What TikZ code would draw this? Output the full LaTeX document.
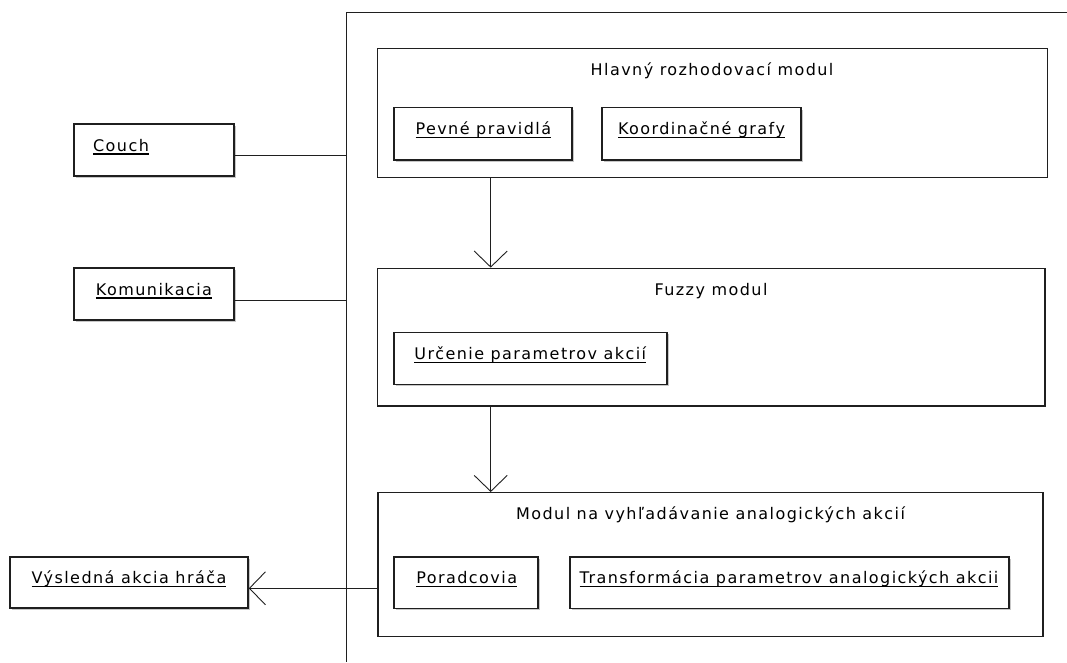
\documentclass[tikz,border=0pt]{standalone}
\usepackage{fontspec}
\setmainfont{DejaVu Sans}[LetterSpace=9]
\usetikzlibrary{arrows.meta,shadows,calc}
\newcommand\myul[1]{\setbox0=\hbox{#1}\rlap{\rule[-3.5pt]{\wd0}{1.2pt}}\box0}
\begin{document}
\begin{tikzpicture}[x=1pt,y=-1pt,
  frame/.style={draw=black!88, line width=1.4pt, inner sep=0pt, fill=white},
  inbox/.style={draw=black!88, line width=1.6pt, inner sep=0pt, fill=white,
    drop shadow={shadow xshift=2pt,shadow yshift=-2pt,opacity=0.22,fill=black}},
  txt/.style={anchor=base, inner sep=0pt, font=\fontsize{16}{19}\selectfont},
  conn/.style={draw=black!88, line width=0.9pt},
  arr/.style={conn, -{Straight Barb[length=16pt,width=33pt]}}
]
\useasboundingbox (0,0) rectangle (1067,662);
\fill[white] (0,0) rectangle (1067,662);

% system boundary
\coordinate (vtop) at (346.5,12);
\coordinate (vbot) at (346.5,662);
\coordinate (htop) at (1067,12);
\draw[conn] (htop) -- (vtop) -- (vbot);

% outer actors
\node[inbox, minimum width=160pt, minimum height=52pt] (couch) at (154,150) {};
\node[inbox, minimum width=160pt, minimum height=52pt] (komun) at (154,294) {};
\node[inbox, minimum width=238pt, minimum height=51pt] (vysl) at (129,582.5) {};

% modules
\node[frame, minimum width=670pt, minimum height=129.4pt] (hlavny) at (712.3,113) {};
\node[frame, minimum width=667.7pt, minimum height=137.7pt] (fuzzy) at (711.2,337.2) {};
\node[frame, minimum width=665pt, minimum height=144pt] (modul) at (710.5,564.7) {};

% inner components
\node[inbox, minimum width=178pt, minimum height=52.3pt] (pevne) at (483,133.8) {};
\node[inbox, minimum width=199pt, minimum height=52.3pt] (koord) at (701.5,133.8) {};
\node[inbox, minimum width=273pt, minimum height=52pt] (urcenie) at (530.5,358.3) {};
\node[inbox, minimum width=144pt, minimum height=51.6pt] (porad) at (466,582.5) {};
\node[inbox, minimum width=439pt, minimum height=51.6pt] (transf) at (789.5,582.5) {};

% texts
\node[txt] (tcouch) at (121,151) {\myul{Couch}};
\node[txt] (tkomun) at (154,295) {\myul{Komunikacia}};
\node[txt] (tvysl) at (129,583.7) {\myul{Výsledná akcia hráča}};
\node[txt] (thlavny) at (712,75.3) {Hlavný rozhodovací modul};
\node[txt] (tfuzzy) at (711,295.3) {Fuzzy modul};
\node[txt] (tmodul) at (710.5,519.7) {Modul na vyhľadávanie analogických akcií};
\node[txt] (tpevne) at (483.3,134.7) {\myul{Pevné pravidlá}};
\node[txt] (tkoord) at (701.5,134.7) {\myul{Koordinačné grafy}};
\node[txt] (turcenie) at (530.3,359.3) {\myul{Určenie parametrov akcií}};
\node[txt] (tporad) at (466.7,583.7) {\myul{Poradcovia}};
\node[txt] (ttransf) at (789,583.7) {\myul{Transformácia parametrov analogických akcii}};

% connectors
\coordinate (cy) at (0,155.7);
\coordinate (ky) at (0,300);
\draw[conn] (couch.east |- cy) -- (vtop |- cy);
\draw[conn] (komun.east |- ky) -- (vtop |- ky);
\coordinate (ax) at (490.7,0);
\coordinate (ay) at (0,588.3);
\draw[arr] (hlavny.south -| ax) -- (fuzzy.north -| ax);
\draw[arr] (fuzzy.south -| ax) -- (modul.north -| ax);
\draw[arr] (modul.west |- ay) -- (vysl.east |- ay);
\end{tikzpicture}
\end{document}
